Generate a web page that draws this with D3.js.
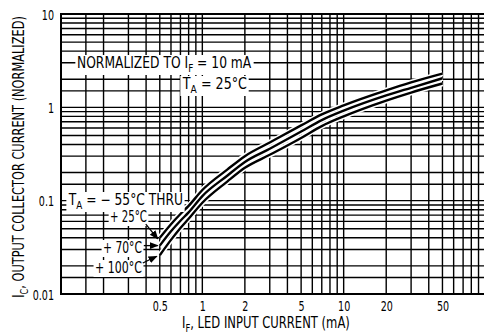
<!DOCTYPE html>
<html>
<head>
<meta charset="utf-8">
<script src="https://cdn.jsdelivr.net/npm/d3@7"></script>
<style>
html,body{margin:0;padding:0;background:#fff;}
svg{display:block;}
text{font-family:"DejaVu Sans",sans-serif;fill:#000;}
</style>
</head>
<body>
<svg id="chart" width="484" height="336"></svg>
<script>
// ---- data ----
const ifValues = [0.5, 0.6, 0.7, 0.8, 1, 1.5, 2, 3, 5, 7, 10, 20, 30, 50];
const icLow   = [0.040, 0.056, 0.072, 0.088, 0.130, 0.215, 0.30, 0.42, 0.64, 0.84, 1.05, 1.52, 1.85, 2.30]; // -55°C thru +25°C
const ic70    = [0.033, 0.047, 0.061, 0.075, 0.112, 0.185, 0.26, 0.36, 0.55, 0.73, 0.92, 1.34, 1.62, 2.05]; // +70°C
const ic100   = [0.026, 0.038, 0.051, 0.064, 0.095, 0.160, 0.225, 0.31, 0.47, 0.63, 0.80, 1.18, 1.44, 1.80]; // +100°C
const xTickValues = [0.5, 1, 2, 5, 10, 20, 50];
const xTickLabels = ["0.5", "1", "2", "5", "10", "20", "50"];
const yTickValues = [10, 1, 0.1, 0.01];
const yTickLabels = ["10", "1", "0.1", "0.01"];
const xGrid = [0.15,0.2,0.3,0.4,0.5,0.6,0.7,0.8,0.9,1,2,3,4,5,6,7,8,9,10,20,30,40,50,60,70,80,90];
const yGrid = [0.015,0.02,0.03,0.04,0.05,0.06,0.07,0.08,0.09,0.1,0.15,0.2,0.3,0.4,0.5,0.6,0.7,0.8,0.9,1,1.5,2,3,4,5,6,7,8,9];

const svg = d3.select("#chart");
const L = 61, R = 485, T = 14, B = 294;
const FS = 15, TS = 14.5, SX_TICK = 0.66;
const x = d3.scaleLog().domain([0.1, 100]).range([L, R]);
const y = d3.scaleLog().domain([0.01, 10]).range([B, T]);

// grid
const g = svg.append("g");
g.selectAll(".vx").data(xGrid).enter().append("line")
  .attr("x1", d => x(d)).attr("x2", d => x(d)).attr("y1", T).attr("y2", B)
  .attr("stroke", "#000").attr("stroke-width", 1.4);
g.selectAll(".hy").data(yGrid).enter().append("line")
  .attr("x1", L).attr("x2", R).attr("y1", d => y(d)).attr("y2", d => y(d))
  .attr("stroke", "#000").attr("stroke-width", 1.4);

// frame
svg.append("path").attr("d", `M${R},${T}H${L}V${B}H${R}`)
  .attr("fill", "none").attr("stroke", "#000").attr("stroke-width", 2);

// axes tick labels via d3 axes (no tick lines), horizontally condensed
const xAxis = d3.axisBottom(x).tickValues(xTickValues)
  .tickFormat((d, i) => xTickLabels[i]).tickSize(0).tickPadding(6);
const xa = svg.append("g").attr("transform", `translate(0,${B})`).call(xAxis)
  .attr("font-family", null).attr("font-size", null);
xa.select(".domain").remove();
xa.selectAll("text").attr("font-size", TS).attr("y", 17).attr("dy", 0)
  .attr("transform", `scale(${SX_TICK},1)`);

const yAxis = d3.axisLeft(y).tickValues(yTickValues)
  .tickFormat((d, i) => yTickLabels[i]).tickSize(0);
const ya = svg.append("g").attr("transform", `translate(${L},0)`).call(yAxis)
  .attr("font-family", null).attr("font-size", null);
ya.select(".domain").remove();
ya.selectAll("text").attr("font-size", TS).attr("x", -7 / SX_TICK).attr("dy", "0.36em")
  .attr("transform", `scale(${SX_TICK},1)`);

// text fitted to a target width (condensed look)
function fitText(x0, baseline, parts, size, width, boxed) {
  const grp = svg.append("g");
  const t = grp.append("text").attr("x", 0).attr("y", 0).attr("font-size", size);
  parts.forEach(p => {
    const s = t.append("tspan").text(p.t);
    if (p.sub) s.attr("font-size", size * 0.72).attr("dy", 4);
    if (p.after) s.attr("dy", -4);
  });
  const bb = t.node().getBBox();
  const sx = width / bb.width;
  if (boxed) grp.insert("rect", "text").attr("x", bb.x - 2).attr("y", bb.y + 1)
    .attr("width", bb.width + 4).attr("height", bb.height - 1).attr("fill", "#fff");
  grp.attr("transform", `translate(${x0 - bb.x * sx},${baseline}) scale(${sx},1)`);
  return grp;
}

// curves
const series = [icLow, ic70, ic100];
const line = d3.line().x(d => x(d[0])).y(d => y(d[1])).curve(d3.curveMonotoneX);
const cg = svg.append("g");
series.forEach(s => {
  const pts = ifValues.map((v, i) => [v, s[i]]);
  cg.append("path").attr("d", line(pts)).attr("fill", "none")
    .attr("stroke", "#fff").attr("stroke-width", 5.5);
});
series.forEach(s => {
  const pts = ifValues.map((v, i) => [v, s[i]]);
  cg.append("path").attr("d", line(pts)).attr("fill", "none")
    .attr("stroke", "#000").attr("stroke-width", 2.4);
});

// annotation texts
fitText(77, 68, [{t:"NORMALIZED TO "}, {t:" I"}, {t:"F", sub:true}, {t:" = 10 mA", after:true}], FS, 175, true);
fitText(182, 89, [{t:"T"}, {t:"A", sub:true}, {t:" = 25°C", after:true}], FS, 65, true);
fitText(68, 205, [{t:"T"}, {t:"A", sub:true}, {t:" =  − 55°C THRU", after:true}], FS, 115, true);
fitText(110, 222, [{t:"+ 25°C"}], FS, 37, true);
fitText(103, 253, [{t:"+ 70°C"}], FS, 39, true);
fitText(95, 273, [{t:"+ 100°C"}], FS, 47, true);

// arrows
const defs = svg.append("defs");
defs.append("marker").attr("id", "ah").attr("viewBox", "0 0 10 10").attr("refX", 9).attr("refY", 5)
  .attr("markerWidth", 7).attr("markerHeight", 7).attr("orient", "auto")
  .append("path").attr("d", "M0,1L10,5L0,9Z").attr("fill", "#000");
const arrows = [
  [x(0.5) - 14, y(0.056), x(0.5) - 2, y(icLow[0]) + 1],
  [x(0.5) - 16, y(ic70[0]), x(0.5) - 2, y(ic70[0])],
  [x(0.5) - 17, y(0.0215), x(0.5) - 3, y(ic100[0]) + 1]
];
arrows.forEach(a => svg.append("line").attr("x1", a[0]).attr("y1", a[1]).attr("x2", a[2]).attr("y2", a[3])
  .attr("stroke", "#000").attr("stroke-width", 1.3).attr("marker-end", "url(#ah)"));

// axis titles
fitText(182, 328, [{t:"I"}, {t:"F", sub:true}, {t:", LED INPUT CURRENT (mA)", after:true}], FS, 168, false);
(function () {
  const grp = svg.append("g");
  const t = grp.append("text").attr("text-anchor", "middle").attr("font-size", FS);
  t.append("tspan").text("I");
  t.append("tspan").text("C").attr("font-size", FS * 0.72).attr("dy", 4);
  t.append("tspan").text(", OUTPUT COLLECTOR CURRENT (NORMALIZED)").attr("dy", -4);
  const bb = t.node().getBBox();
  const sx = 282 / bb.width;
  grp.attr("transform", `translate(24,${157 + (bb.x + bb.width / 2) * sx}) rotate(-90) scale(${sx},1)`);
})();
</script>
</body>
</html>
